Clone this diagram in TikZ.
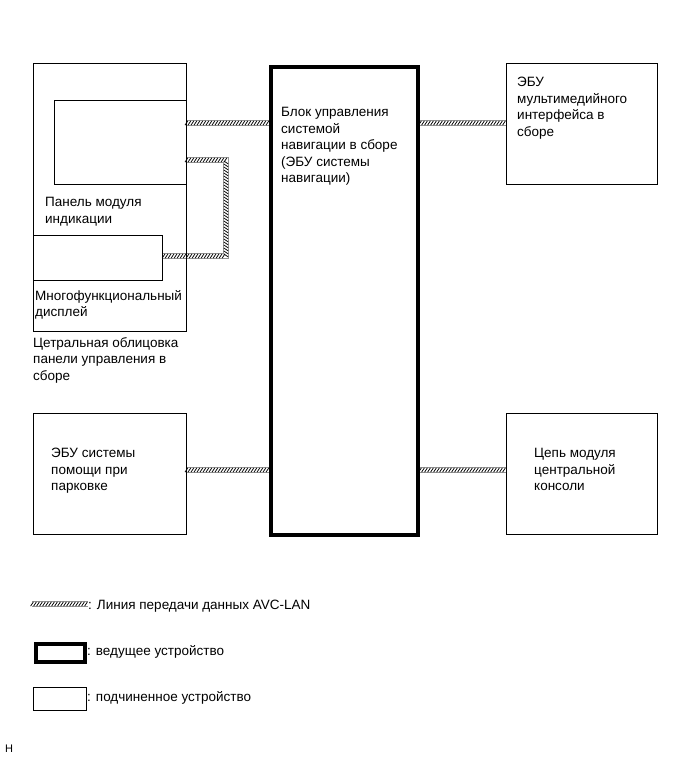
\documentclass[tikz,border=0pt]{standalone}
\usepackage{fontspec}
\setmainfont{Liberation Sans}
\usetikzlibrary{decorations.markings,backgrounds}
\begin{document}
\begin{tikzpicture}[x=1pt,y=-1pt,
  box/.style={draw, line width=0.9pt, inner sep=0pt, anchor=north west},
  master/.style={draw, line width=4pt, inner sep=0pt, anchor=north west},
  lbl/.style={anchor=north west, inner sep=0pt, align=left, font=\fontsize{13.5}{16.6}\selectfont},
  avc/.style={draw=gray!85, line width=0.6pt, double=white, double distance=4.6pt,
     postaction={decorate, decoration={markings, mark=between positions 0 and 1 step 3pt with {\draw[black,line width=0.75pt] (-1.4pt,-2.1pt)--(1.4pt,2.1pt);}}}}]
\useasboundingbox (0,0) rectangle (691,757);
% boxes
\node[box, minimum width=153pt, minimum height=267pt] (outer) at (32.5,63.5) {};
\node[box, minimum width=132pt, minimum height=83pt] (panel) at (53.5,100.5) {};
\node[box, minimum width=129pt, minimum height=45pt] (multi) at (32.5,234.5) {};
\node[master, minimum width=147pt, minimum height=468pt] (nav) at (269,65) {};
\node[box, minimum width=151pt, minimum height=120pt] (mm) at (505.5,63.5) {};
\node[box, minimum width=153pt, minimum height=121pt] (park) at (32.5,412.5) {};
\node[box, minimum width=151pt, minimum height=121pt] (cons) at (505.5,412.5) {};
% connectors
\coordinate (l1) at (226,160);
\coordinate (l2) at (226,256);
\begin{scope}[on background layer]
\draw[avc] (outer.east |- 0,123) -- (nav.west |- 0,123);
\draw[avc] (nav.east |- 0,123) -- (mm.west |- 0,123);
\draw[avc] (park.east |- 0,470) -- (nav.west |- 0,470);
\draw[avc] (nav.east |- 0,470) -- (cons.west |- 0,470);
\draw[avc] (panel.east |- l1) -- (l1) -- (l2) -- (multi.east |- l2);
\end{scope}
% texts
\node[lbl] (tnav) at (281,107) {Блок управления\\системой\\навигации в сборе\\(ЭБУ системы\\навигации)};
\node[lbl] (tmm) at (517,77) {ЭБУ\\мультимедийного\\интерфейса в\\сборе};
\node[lbl] (tpanel) at (45,197) {Панель модуля\\индикации};
\node[lbl] (tmulti) at (35,290) {Многофункциональный\\дисплей};
\node[lbl] (touter) at (33,337) {Цетральная облицовка\\панели управления в\\сборе};
\node[lbl] (tpark) at (51,448) {ЭБУ системы\\помощи при\\парковке};
\node[lbl] (tcons) at (534,448) {Цепь модуля\\центральной\\консоли};
% legend
\coordinate (g1) at (32,604);
\coordinate (g2) at (88,604);
\draw[avc] (g1) -- (g2);
\node[lbl, anchor=base west] (lg1) at (88,609.5) {: Линия передачи данных AVC-LAN};
\node[master, minimum width=49pt, minimum height=18pt] (lm) at (34,642) {};
\node[lbl, anchor=base west] (lg2) at (87,655.5) {: ведущее устройство};
\node[box, minimum width=53pt, minimum height=23pt] (ls) at (32.5,686.5) {};
\node[lbl, anchor=base west] (lg3) at (87,701.5) {: подчиненное устройство};
\node[lbl, anchor=base west, font=\fontsize{11}{13}\selectfont] (hh) at (5,752) {H};
\end{tikzpicture}
\end{document}
